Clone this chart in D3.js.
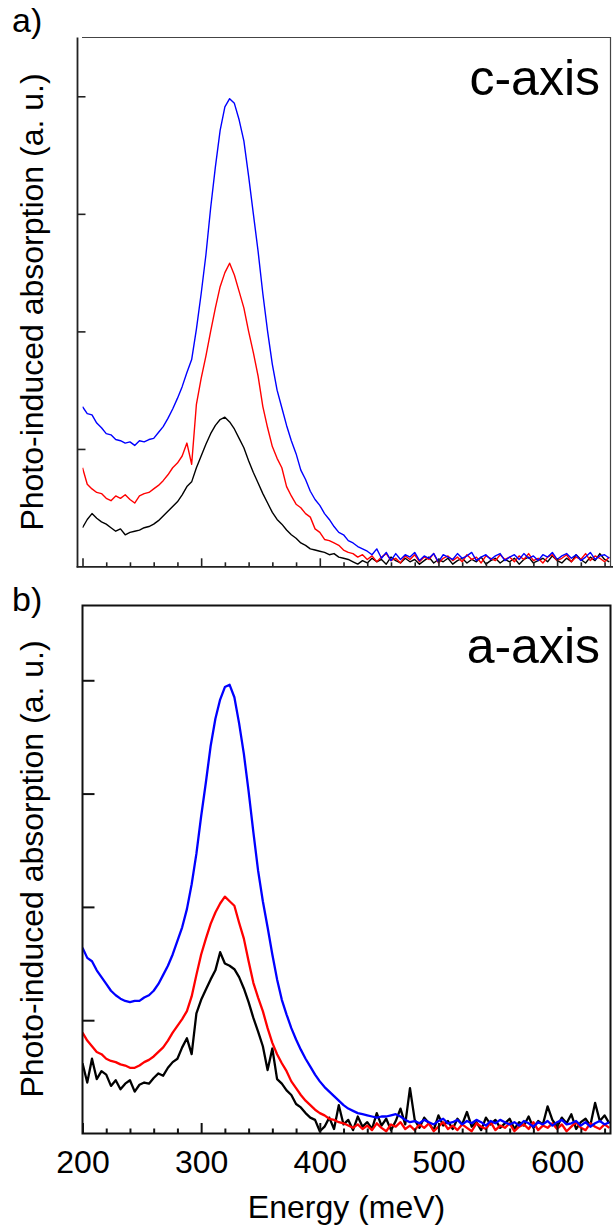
<!DOCTYPE html>
<html><head><meta charset="utf-8">
<script src="https://cdn.jsdelivr.net/npm/d3@7"></script>
<style>body{margin:0;background:#fff} svg{display:block}</style>
</head><body>
<svg id="c" width="613" height="1229"></svg>
<script>
// Energy grid: 200 meV to 644 meV, one sample every 4 meV
const energyStart = 200, energyStep = 4;
const xTicksMajor = [200, 300, 400, 500, 600];
const yTicksA = [1, 2, 3, 4];
const yTicksB = [1, 2, 3, 4];

// Panel a (c-axis)
const blueA = [
 1.36,1.30,1.29,1.22,1.18,1.13,1.12,1.08,1.07,1.05,
 1.06,1.03,1.07,1.06,1.08,1.09,1.14,1.19,1.26,1.34,
 1.43,1.53,1.65,1.76,2.02,2.32,2.65,3.05,3.40,3.71,
 3.91,3.98,3.94,3.80,3.62,3.32,3.00,2.68,2.32,2.00,
 1.72,1.50,1.35,1.20,1.07,0.96,0.82,0.74,0.64,0.57,
 0.52,0.45,0.40,0.34,0.29,0.27,0.22,0.20,0.17,0.15,
 0.13,0.10,0.15,0.07,0.12,0.05,0.11,0.06,0.10,0.08,
 0.12,0.05,0.09,0.07,0.11,0.04,0.10,0.08,0.06,0.11,
 0.07,0.09,0.12,0.05,0.08,0.10,0.06,0.09,0.11,0.05,
 0.08,0.10,0.06,0.11,0.07,0.09,0.05,0.10,0.08,0.12,
 0.06,0.09,0.11,0.07,0.10,0.05,0.08,0.12,0.06,0.09,
 0.10,0.07];
const redA = [
 0.84,0.70,0.66,0.63,0.62,0.58,0.56,0.60,0.58,0.61,
 0.57,0.54,0.60,0.62,0.63,0.66,0.69,0.73,0.78,0.84,
 0.88,0.94,1.05,0.87,1.38,1.60,1.79,2.00,2.20,2.38,
 2.50,2.58,2.48,2.34,2.20,2.00,1.82,1.62,1.36,1.18,
 1.02,0.92,0.84,0.68,0.60,0.53,0.50,0.45,0.42,0.32,
 0.29,0.23,0.22,0.20,0.18,0.14,0.12,0.11,0.08,0.10,
 0.06,0.09,0.04,0.08,0.11,0.05,0.07,0.03,0.09,0.06,
 0.10,0.04,0.08,0.06,0.11,0.03,0.07,0.09,0.05,0.08,
 0.04,0.10,0.06,0.08,0.03,0.09,0.07,0.05,0.10,0.06,
 0.08,0.04,0.09,0.06,0.11,0.05,0.07,0.03,0.08,0.10,
 0.05,0.07,0.10,0.04,0.08,0.06,0.11,0.05,0.09,0.07,
 0.04,0.08];
const blackA = [
 0.33,0.40,0.45,0.41,0.38,0.36,0.33,0.30,0.32,0.27,
 0.29,0.30,0.31,0.33,0.34,0.36,0.39,0.43,0.47,0.51,
 0.55,0.61,0.68,0.72,0.84,0.94,1.04,1.13,1.20,1.25,
 1.27,1.23,1.17,1.09,1.01,0.90,0.80,0.71,0.62,0.54,
 0.46,0.40,0.36,0.31,0.27,0.24,0.20,0.18,0.15,0.14,
 0.13,0.12,0.10,0.11,0.08,0.07,0.06,0.04,0.02,0.05,
 0.03,0.07,0.04,0.06,0.02,0.08,0.05,0.03,0.07,0.04,
 0.06,0.02,0.05,0.08,0.03,0.06,0.04,0.07,0.02,0.05,
 0.07,0.03,0.06,0.04,0.08,0.02,0.05,0.07,0.03,0.06,
 0.04,0.07,0.02,0.06,0.08,0.03,0.05,0.07,0.04,0.09,
 0.05,0.03,0.07,0.04,0.10,0.06,0.03,0.08,0.05,0.11,
 0.06,0.04];

// Panel b (a-axis)
const blueB = [
 1.64,1.55,1.52,1.44,1.38,1.32,1.26,1.22,1.19,1.17,
 1.16,1.17,1.17,1.20,1.22,1.26,1.32,1.40,1.48,1.58,
 1.70,1.82,1.98,2.20,2.47,2.80,3.10,3.42,3.66,3.83,
 3.94,3.96,3.85,3.62,3.35,3.02,2.66,2.32,2.05,1.82,
 1.58,1.36,1.18,1.05,0.93,0.83,0.74,0.66,0.59,0.52,
 0.46,0.41,0.37,0.33,0.29,0.25,0.22,0.20,0.18,0.17,
 0.16,0.15,0.14,0.15,0.15,0.16,0.17,0.15,0.12,0.10,
 0.11,0.09,0.12,0.10,0.08,0.11,0.13,0.09,0.10,0.12,
 0.08,0.11,0.09,0.12,0.10,0.07,0.11,0.09,0.12,0.10,
 0.08,0.10,0.07,0.11,0.09,0.06,0.10,0.08,0.11,0.07,
 0.10,0.12,0.08,0.09,0.11,0.07,0.10,0.06,0.09,0.11,
 0.08,0.10];
const redB = [
 0.89,0.82,0.77,0.72,0.70,0.66,0.64,0.63,0.61,0.60,
 0.58,0.58,0.60,0.63,0.65,0.68,0.72,0.76,0.82,0.89,
 0.95,1.01,1.08,1.21,1.40,1.58,1.72,1.85,1.95,2.03,
 2.09,2.05,2.01,1.86,1.72,1.52,1.33,1.20,1.08,0.93,
 0.80,0.70,0.62,0.55,0.46,0.40,0.34,0.29,0.25,0.21,
 0.18,0.16,0.13,0.12,0.10,0.09,0.07,0.05,0.08,0.04,
 0.07,0.03,0.09,0.05,0.02,0.08,0.06,0.10,0.04,0.07,
 0.03,0.08,0.05,0.09,0.02,0.06,0.10,0.04,0.07,0.03,
 0.08,0.05,0.02,0.09,0.06,0.04,0.10,0.03,0.07,0.05,
 0.09,0.02,0.06,0.08,0.04,0.10,0.03,0.07,0.05,0.09,
 0.04,0.08,0.02,0.06,0.10,0.05,0.03,0.09,0.06,0.04,
 0.08,0.05];
const blackB = [
 0.62,0.45,0.66,0.48,0.55,0.52,0.42,0.47,0.39,0.44,
 0.47,0.37,0.43,0.45,0.44,0.49,0.53,0.51,0.58,0.63,
 0.66,0.76,0.84,0.70,1.06,1.18,1.27,1.36,1.44,1.60,
 1.50,1.48,1.45,1.38,1.28,1.16,1.02,0.90,0.77,0.56,
 0.75,0.48,0.44,0.38,0.34,0.26,0.23,0.18,0.14,0.12,
 0.02,0.06,0.14,0.04,0.25,0.08,0.12,0.03,0.15,0.06,
 0.10,0.04,0.18,0.07,0.13,0.03,0.11,0.22,0.08,0.40,
 0.12,0.05,0.14,0.09,0.03,0.16,0.07,0.11,0.04,0.13,
 0.08,0.19,0.06,0.10,0.03,0.14,0.08,0.12,0.05,0.09,
 0.13,0.04,0.10,0.07,0.15,0.05,0.11,0.08,0.24,0.12,
 0.06,0.14,0.09,0.17,0.04,0.10,0.13,0.07,0.27,0.11,
 0.16,0.09];

const FONT = "'Liberation Sans', Arial, Helvetica, sans-serif";
const svg = d3.select("#c");

const x = d3.scaleLinear().domain([200, 645]).range([82.5, 610.5]);
const yA = d3.scaleLinear().domain([0, 4.5]).range([566.5, 37.5]);
const yB = d3.scaleLinear().domain([0, 4.66]).range([1133.5, 605.5]);

const toPts = arr => arr.map((v, i) => [energyStart + i * energyStep, v]);
const minorTicks = d3.range(200, 645, 20).filter(v => v % 100 !== 0);

function drawLines(y, series, width, clipId) {
  const [y0, y1] = y.range();
  svg.append("clipPath").attr("id", clipId).append("rect")
    .attr("x", x.range()[0]).attr("y", y1).attr("width", x.range()[1] - x.range()[0]).attr("height", y0 - y1);
  const line = d3.line().x(d => x(d[0])).y(d => y(d[1]));
  const g = svg.append("g").attr("clip-path", `url(#${clipId})`);
  series.forEach(s => {
    g.append("path").datum(toPts(s.data)).attr("d", line)
      .attr("fill", "none").attr("stroke", s.color).attr("stroke-width", width)
      .attr("stroke-linejoin", "round");
  });
}

// ---- Panel a ----
drawLines(yA, [
  {data: blackA, color: "#000000"},
  {data: redA, color: "#ff0000"},
  {data: blueA, color: "#0000ff"}
], 1.4, "clipA");

// frame a
svg.append("line").attr("x1", 82).attr("x2", 610.5).attr("y1", 37.5).attr("y2", 37.5).attr("stroke", "#444").attr("stroke-width", 1.2);
svg.append("line").attr("x1", 610.5).attr("x2", 610.5).attr("y1", 37).attr("y2", 567).attr("stroke", "#444").attr("stroke-width", 1.2);
svg.append("line").attr("x1", 77.5).attr("x2", 77.5).attr("y1", 37.5).attr("y2", 567.5).attr("stroke", "#222").attr("stroke-width", 1.8);
svg.append("line").attr("x1", 76.6).attr("x2", 613).attr("y1", 566.8).attr("y2", 566.8).attr("stroke", "#222").attr("stroke-width", 1.8);

// ticks a
const axA1 = svg.append("g").attr("transform", "translate(0,566.8)")
  .call(d3.axisBottom(x).tickValues(minorTicks).tickSize(-4.5).tickFormat(""));
const axA2 = svg.append("g").attr("transform", "translate(0,566.8)")
  .call(d3.axisBottom(x).tickValues(xTicksMajor).tickSize(-8.5).tickFormat(""));
const ayA = svg.append("g").attr("transform", "translate(77.5,0)")
  .call(d3.axisLeft(yA).tickValues(yTicksA).tickSize(-8).tickFormat(""));
[axA1, axA2, ayA].forEach(g => { g.select(".domain").remove(); g.selectAll("line").attr("stroke", "#222").attr("stroke-width", 1.6); });

// ---- Panel b ----
drawLines(yB, [
  {data: blackB, color: "#000000"},
  {data: redB, color: "#ff0000"},
  {data: blueB, color: "#0000ff"}
], 2.3, "clipB");

svg.append("rect").attr("x", 82.5).attr("y", 605.5).attr("width", 528).attr("height", 528)
  .attr("fill", "none").attr("stroke", "#111").attr("stroke-width", 2);

const axB1 = svg.append("g").attr("transform", "translate(0,1133.5)")
  .call(d3.axisBottom(x).tickValues(minorTicks).tickSize(-5).tickFormat(""));
const axB2 = svg.append("g").attr("transform", "translate(0,1133.5)")
  .call(d3.axisBottom(x).tickValues(xTicksMajor).tickSize(-10.5).tickPadding(17).tickFormat(d3.format("d")));
const ayB = svg.append("g").attr("transform", "translate(82.5,0)")
  .call(d3.axisLeft(yB).tickValues(yTicksB).tickSize(-12).tickFormat(""));
[axB1, axB2, ayB].forEach(g => { g.select(".domain").remove(); g.selectAll("line").attr("stroke", "#111").attr("stroke-width", 2); });
axB2.selectAll("text").attr("font-family", FONT).attr("font-size", 32).attr("fill", "#000");

// ---- Texts ----
const txt = (t, xx, yy, size, anchor) => svg.append("text").text(t).attr("x", xx).attr("y", yy)
  .attr("font-family", FONT).attr("font-size", size).attr("text-anchor", anchor || "start").attr("fill", "#000");

txt("a)", 12, 32, 34);
txt("b)", 12, 611, 34);
txt("c-axis", 600, 95, 50, "end");
txt("a-axis", 600, 663, 50, "end");
txt("Energy (meV)", 346.5, 1218, 32, "middle");

[[302, "a"], [869, "b"]].forEach(([cy]) => {
  svg.append("text").text("Photo-induced absorption (a. u.)")
    .attr("transform", `translate(43,${cy}) rotate(-90)`)
    .attr("font-family", FONT).attr("font-size", 32).attr("text-anchor", "middle").attr("fill", "#000");
});
</script></body></html>
